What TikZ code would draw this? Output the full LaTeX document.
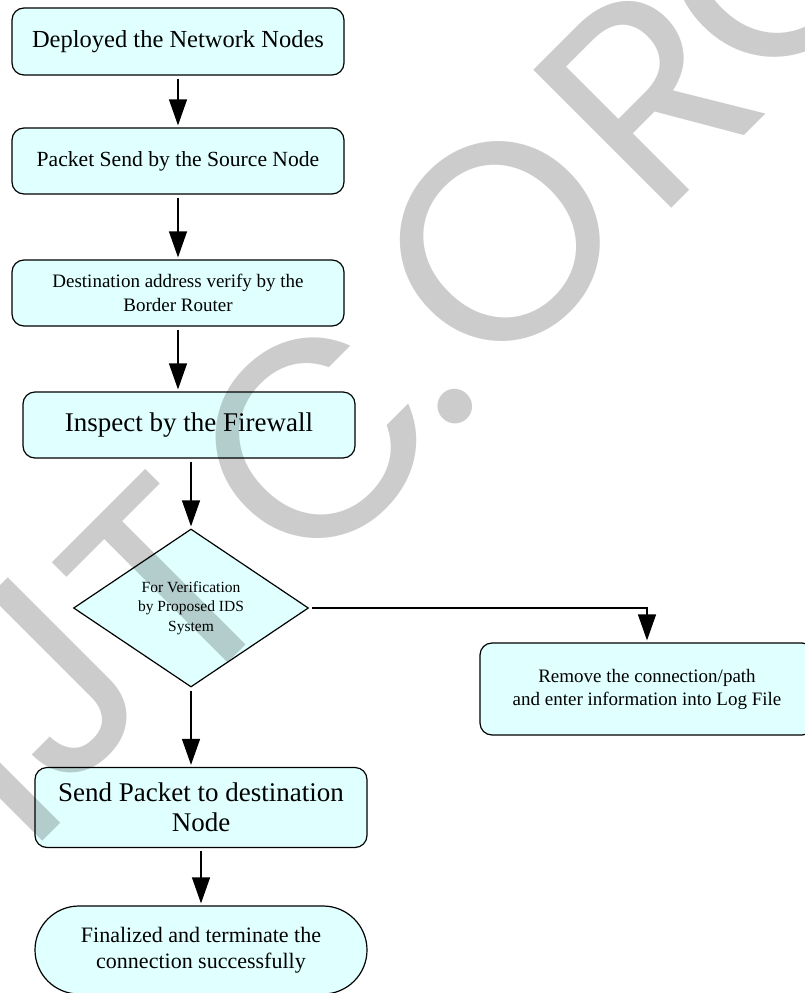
\documentclass[tikz,border=0pt]{standalone}
\usepackage{fontspec}
\setmainfont{Liberation Serif}
\newfontfamily\wmfont{Poppins}
\usetikzlibrary{shapes.geometric,arrows.meta}
\definecolor{boxcyan}{RGB}{224,255,255}
\begin{document}
\begin{tikzpicture}[x=1pt,y=1pt,line width=1.2pt,>={Triangle[length=26pt,width=18pt]},
	box/.style={draw,fill=boxcyan,rounded corners=12pt,minimum width=332pt,inner sep=0pt,align=center},
	flow/.style={->,shorten <=3pt,shorten >=2pt},
	wmark/.style={rotate=45,inner sep=0pt,text=black,text opacity=0.2,font=\wmfont\fontsize{280}{280}\selectfont}]
	\useasboundingbox (0,0) rectangle (804,-993);
	\node[box,minimum height=67pt,font=\fontsize{24.5}{28}\selectfont] (deploy) at (178,-41.5) {Deployed the Network Nodes};
	\node[box,minimum height=66pt,font=\fontsize{21.6}{25}\selectfont] (packet) at (178,-161) {Packet Send by the Source Node};
	\node[box,minimum height=66pt,font=\fontsize{19}{24}\selectfont] (verify) at (178,-293) {Destination address verify by the\\Border Router};
	\node[box,minimum height=66pt,font=\fontsize{27}{32}\selectfont] (firewall) at (189,-425) {Inspect by the Firewall};
	\node[diamond,draw,fill=boxcyan,aspect=1.49,inner sep=0pt,minimum width=235pt,minimum height=158pt,align=center,font=\fontsize{15.5}{19.5}\selectfont] (ids) at (191,-608) {For Verification\\by Proposed IDS\\System};
	\node[box,minimum width=334pt,minimum height=92pt,font=\fontsize{19}{23}\selectfont] (remove) at (647,-689) {Remove the connection/path\\and enter information into Log File};
	\node[box,minimum height=80pt,font=\fontsize{27}{30}\selectfont] (send) at (201,-807.5) {Send Packet to destination\\Node};
	\node[box,rounded corners=44pt,minimum height=88pt,font=\fontsize{22}{26}\selectfont] (finish) at (201,-950) {Finalized and terminate the\\connection successfully};
	\draw[flow] (deploy) -- (packet);
	\draw[flow] (packet) -- (verify);
	\draw[flow] (verify.south) -- (verify.south |- firewall.north);
	\draw[flow] (ids.north |- firewall.south) -- (ids.north);
	\draw[flow] (ids.east) -| (remove.north);
	\draw[flow] (ids.south) -- (ids.south |- send.north);
	\draw[flow] (send) -- (finish);
	\foreach \ch/\px/\py [count=\i] in {I/-17/763,J/46/680,T/168/585,C/315/440,./455/407,O/500/242,R/648/94,G/772/-42}
		\node[wmark] (mark\i) at (\px,-\py) {\ch};
\end{tikzpicture}
\end{document}
